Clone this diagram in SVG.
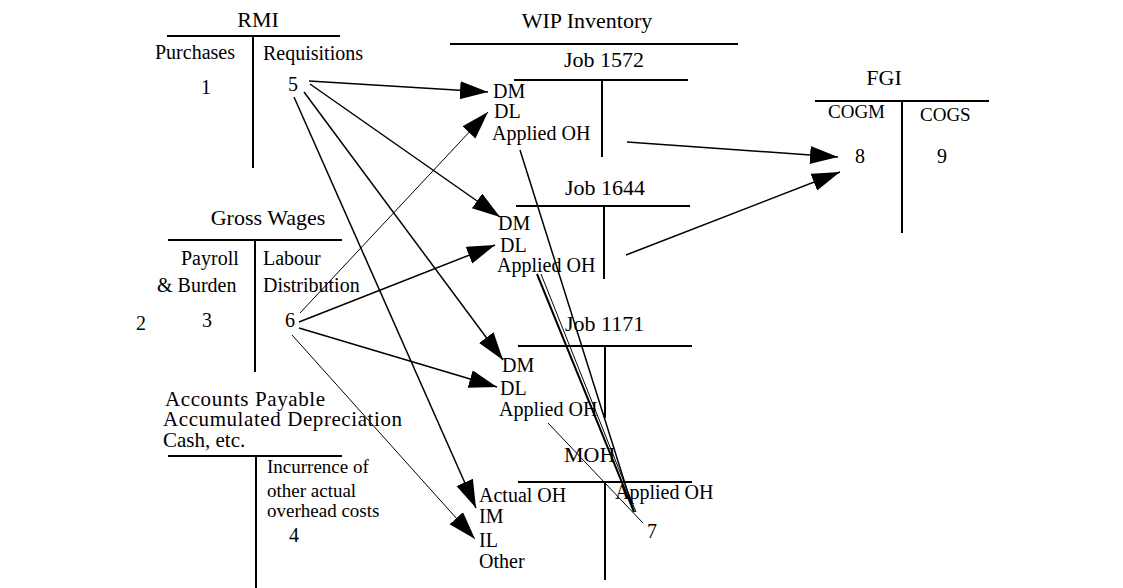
<svg xmlns="http://www.w3.org/2000/svg" width="1123" height="588" viewBox="0 0 1123 588">
  <style>
    text { font-family: "Liberation Serif", "Times New Roman", serif; fill: #000; font-size: 20px; }
    .title { font-size: 22px; }
    .stack { font-size: 21px; }
    .note { font-size: 19px; }
    .mid { text-anchor: middle; }
    .t { stroke: #000; stroke-width: 2; fill: none; }
    .c { stroke: #000; stroke-width: 1.5; fill: none; }
    .thin { stroke: #000; stroke-width: 1; fill: none; }
    .arr { marker-end: url(#head); }
  </style>
  <defs>
    <marker id="head" markerUnits="userSpaceOnUse" markerWidth="30" markerHeight="20" refX="28" refY="9" orient="auto">
      <path d="M0,0 L28,9 L0,18 Z" fill="#000"/>
    </marker>
  </defs>
  <rect width="1123" height="588" fill="#fff"/>

  <!-- Raw materials inventory -->
  <g id="rmi">
    <text class="title mid" x="258" y="27">RMI</text>
    <line class="t" x1="167" y1="36" x2="340" y2="36"/>
    <line class="t" x1="253" y1="36" x2="253" y2="168"/>
    <text x="155" y="59">Purchases</text>
    <text x="263" y="60">Requisitions</text>
    <text x="201" y="94">1</text>
    <text x="288" y="91">5</text>
  </g>

  <!-- Work in process -->
  <g id="wip">
    <text class="title mid" x="587" y="28">WIP Inventory</text>
    <line class="t" x1="450" y1="44" x2="738" y2="44"/>
  </g>

  <g id="job1572">
    <text class="title" x="564" y="67">Job 1572</text>
    <line class="t" x1="514" y1="80" x2="688" y2="80"/>
    <line class="t" x1="602" y1="80" x2="602" y2="157"/>
    <text x="493" y="98">DM</text>
    <text x="494" y="118">DL</text>
    <text x="492" y="140">Applied OH</text>
  </g>

  <g id="job1644">
    <text class="title" x="565" y="195">Job 1644</text>
    <line class="t" x1="516" y1="206" x2="690" y2="206"/>
    <line class="t" x1="604" y1="206" x2="604" y2="279"/>
    <text x="498" y="230">DM</text>
    <text x="500" y="252">DL</text>
    <text x="497" y="272">Applied OH</text>
  </g>

  <g id="job1171">
    <text class="title" x="565" y="331">Job 1171</text>
    <line class="t" x1="518" y1="346" x2="692" y2="346"/>
    <line class="t" x1="605" y1="346" x2="605" y2="418"/>
    <text x="502" y="372">DM</text>
    <text x="500" y="395">DL</text>
    <text x="499" y="416">Applied OH</text>
  </g>

  <!-- Manufacturing overhead -->
  <g id="moh">
    <text class="title" x="564" y="462">MOH</text>
    <line class="t" x1="518" y1="482" x2="692" y2="482"/>
    <line class="t" x1="605" y1="482" x2="605" y2="580"/>
    <text x="479" y="502">Actual OH</text>
    <text x="479" y="523">IM</text>
    <text x="479" y="547">IL</text>
    <text x="479" y="568">Other</text>
    <text x="615" y="499">Applied OH</text>
    <text x="647" y="538">7</text>
  </g>

  <!-- Finished goods inventory -->
  <g id="fgi">
    <text class="title mid" x="884" y="85">FGI</text>
    <line class="t" x1="815" y1="101" x2="989" y2="101"/>
    <line class="t" x1="902" y1="101" x2="902" y2="233"/>
    <text x="828" y="118" style="font-size:19px">COGM</text>
    <text x="920" y="121" style="font-size:19px">COGS</text>
    <text x="855" y="163">8</text>
    <text x="937" y="163">9</text>
  </g>

  <!-- Gross wages -->
  <g id="gross-wages">
    <text class="title mid" x="268" y="225">Gross Wages</text>
    <line class="t" x1="168" y1="240" x2="342" y2="240"/>
    <line class="t" x1="255" y1="240" x2="255" y2="372"/>
    <text x="181" y="265">Payroll</text>
    <text x="157" y="292">&amp; Burden</text>
    <text x="263" y="265">Labour</text>
    <text x="263" y="292">Distribution</text>
    <text x="136" y="330">2</text>
    <text x="202" y="327">3</text>
    <text x="285" y="327">6</text>
  </g>

  <!-- Accounts payable etc. -->
  <g id="accounts-payable">
    <text class="stack" x="165" y="406" textLength="160">Accounts Payable</text>
    <text class="stack" x="163" y="426" textLength="239">Accumulated Depreciation</text>
    <text class="stack" x="163" y="447">Cash, etc.</text>
    <line class="t" x1="168" y1="456" x2="342" y2="456"/>
    <line class="t" x1="256" y1="456" x2="256" y2="588"/>
    <text class="note" x="267" y="473">Incurrence of</text>
    <text class="note" x="267" y="497">other actual</text>
    <text class="note" x="267" y="517">overhead costs</text>
    <text x="289" y="542">4</text>
  </g>

  <!-- Postings between accounts -->
  <g id="connectors">
    <!-- 5: material requisitions -->
    <line class="c arr" x1="309" y1="81" x2="488" y2="92"/>
    <line class="c arr" x1="310" y1="84" x2="500" y2="217"/>
    <line class="c arr" x1="304" y1="92" x2="503" y2="360"/>
    <line class="c arr" x1="294" y1="97" x2="476" y2="508"/>
    <!-- 6: labour distribution -->
    <line class="thin arr" x1="300" y1="313" x2="488" y2="112"/>
    <line class="c arr" x1="299" y1="322" x2="495" y2="245"/>
    <line class="c arr" x1="299" y1="328" x2="497" y2="387"/>
    <line class="thin arr" x1="292" y1="335" x2="475" y2="539"/>
    <!-- 7: overhead applied -->
    <line class="c" x1="520" y1="150" x2="634" y2="512"/>
    <line class="t" x1="537" y1="274" x2="634" y2="512"/>
    <line class="thin" x1="541" y1="274" x2="636" y2="512"/>
    <line class="thin" x1="548" y1="423" x2="643" y2="523"/>
    <!-- 8: cost of goods manufactured -->
    <line class="c arr" x1="627" y1="142" x2="838" y2="157"/>
    <line class="c arr" x1="626" y1="255" x2="840" y2="172"/>
  </g>
</svg>
